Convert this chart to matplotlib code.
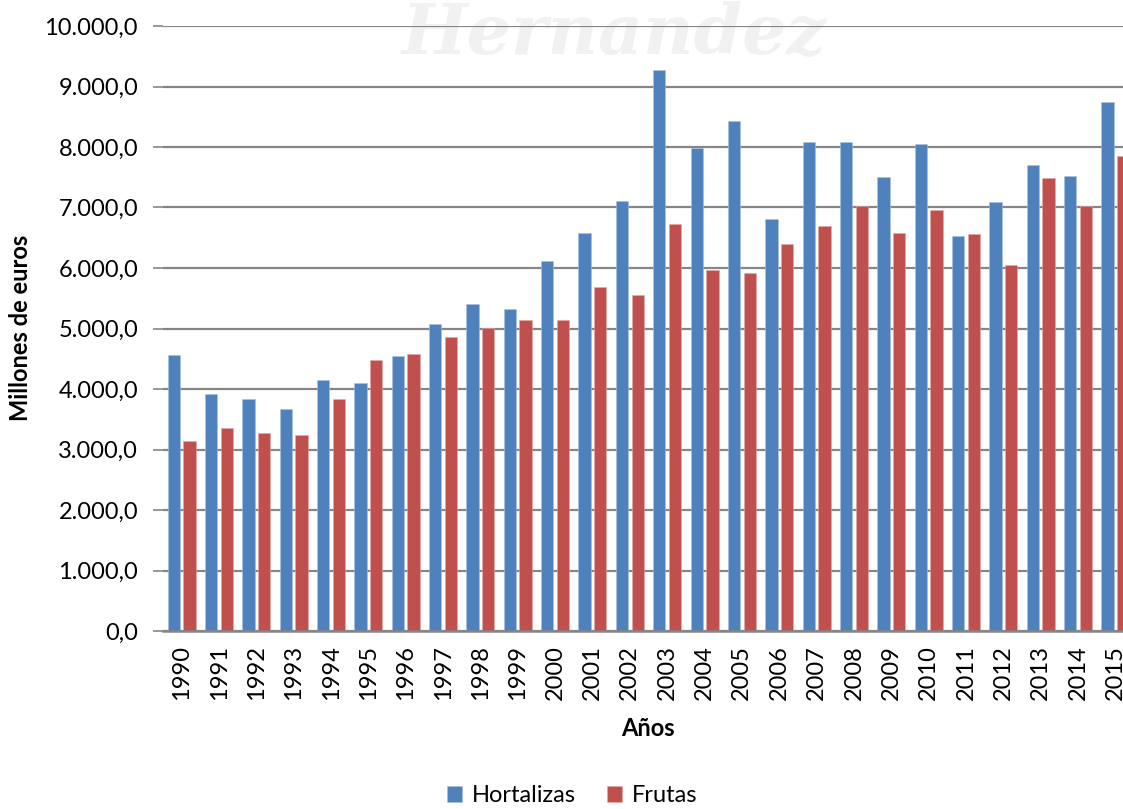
"""Valor de la producción de hortalizas y frutas, 1990-2015."""

import matplotlib

matplotlib.use("Agg")
import matplotlib.pyplot as plt
import numpy as np
from matplotlib import ticker

# datos (millones de euros)
years = [str(y) for y in range(1990, 2016)]
hortalizas = [
    4560, 3925, 3835, 3665, 4145, 4100, 4550, 5080, 5410, 5315,
    6110, 6575, 7110, 9270, 7990, 8430, 6805, 8080, 8090, 7500,
    8055, 6525, 7090, 7700, 7515, 8740,
]
frutas = [
    3145, 3350, 3275, 3245, 3835, 4475, 4585, 4855, 5010, 5145,
    5135, 5680, 5550, 6730, 5975, 5920, 6390, 6700, 7025, 6575,
    6965, 6560, 6045, 7490, 7030, 7850,
]
series_names = ["Hortalizas", "Frutas"]

BLUE = "#4F81BD"
RED = "#C0504D"
GRID = "#868686"

plt.rcParams["font.family"] = ["Lato", "DejaVu Sans"]

W, H = 1123, 809
fig = plt.figure(figsize=(W / 100, H / 100), dpi=100)

# the original picture is cropped on the right, so the axes run past the figure edge
left, right, top, bottom = 163, 1134, 26, 631
ax = fig.add_axes([left / W, 1 - bottom / H, (right - left) / W, (bottom - top) / H])
ax.set_facecolor("none")

# faint watermark behind the plot
fig.text(402 / W, 1 - 54 / H, "Hernandez", fontsize=50, fontstyle="italic",
         fontweight="bold", family="DejaVu Serif", color="#f1f1f1",
         va="baseline", ha="left", zorder=-5)

x = np.arange(len(years))
bw = 0.33
off = 0.21
ax.bar(x - off, hortalizas, bw, color=BLUE, label=series_names[0], zorder=3,
       edgecolor="#a9c1e0", linewidth=0.4)
ax.bar(x + off, frutas, bw, color=RED, label=series_names[1], zorder=3,
       edgecolor="#e2a9a8", linewidth=0.4)

ax.set_xlim(-0.5, len(years) - 0.5)
ax.set_ylim(0, 10000)
ax.yaxis.set_major_locator(ticker.MultipleLocator(1000))
ax.yaxis.set_major_formatter(
    ticker.FuncFormatter(lambda v, _: f"{v:,.1f}".replace(",", "X").replace(".", ",").replace("X", "."))
)
ax.grid(axis="y", color=GRID, linewidth=1.6, zorder=0)
ax.set_axisbelow(True)

for side in ["top", "right", "left"]:
    ax.spines[side].set_visible(False)
ax.spines["bottom"].set_color(GRID)
ax.spines["bottom"].set_linewidth(1.8)
ax.spines["bottom"].set_zorder(4)

ax.set_xticks(x)
ax.set_xticklabels(years, rotation=90, fontsize=17)
ax.tick_params(axis="x", length=0, pad=10)
ax.tick_params(axis="y", labelsize=17, length=7, width=1.2, color=GRID, pad=11)

fig.text(21 / W, 1 - 328 / H, "Millones de euros", rotation=90, fontsize=17,
         fontweight="bold", ha="center", va="center")
fig.text(648 / W, 1 - 728 / H, "Años", fontsize=17, fontweight="bold",
         ha="center", va="center")

fig.legend(loc="center", bbox_to_anchor=(572 / W, 1 - 796 / H), ncol=2, frameon=False,
           fontsize=17, handlelength=0.65, handleheight=0.65, handletextpad=0.4,
           columnspacing=1.3, borderaxespad=0)

fig.savefig("out.png", dpi=100)
plt.close(fig)
